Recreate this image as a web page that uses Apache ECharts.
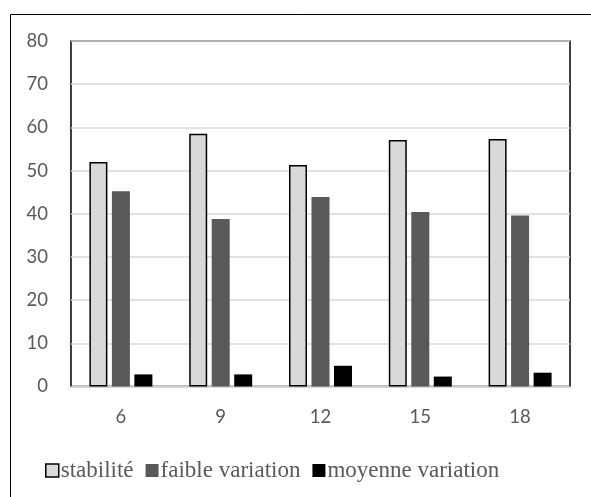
<!DOCTYPE html>
<html>
<head>
<meta charset="utf-8">
<script src="https://cdn.jsdelivr.net/npm/echarts@6/dist/echarts.min.js"></script>
<style>html,body{margin:0;padding:0;background:#fff;}#c{width:591px;height:497px;}</style>
</head>
<body>
<div id="c"></div>
<script>
var categories = ['6', '9', '12', '15', '18'];
var stabilite = [52.0, 58.5, 51.3, 57.1, 57.3];
var faibleVariation = [45.2, 38.8, 43.9, 40.4, 39.6];
var moyenneVariation = [2.8, 2.8, 4.8, 2.3, 3.2];
var seriesNames = ['stabilité', 'faible variation', 'moyenne variation'];
var yMin = 0, yMax = 80, yInterval = 10;

var chart = echarts.init(document.getElementById('c'), null, {renderer: 'canvas'});
chart.setOption({
  animation: false,
  backgroundColor: '#fff',
  graphic: [{
    type: 'rect', left: 8, top: 12, z: -10,
    shape: {width: 620, height: 520},
    style: {fill: 'none', stroke: '#000', lineWidth: 1}
  }],
  grid: {left: 71, top: 41, right: 21, bottom: 110.5, show: true, borderColor: '#000', borderWidth: 1.5, backgroundColor: 'transparent'},
  legend: {
    bottom: 10, left: 40,
    icon: 'rect',
    itemWidth: 13, itemHeight: 13, itemGap: 12,
    textStyle: {fontFamily: 'Liberation Serif', fontSize: 23, color: '#595959', padding: [0,0,0,-3]},
    data: [
      {name: seriesNames[0], itemStyle: {color: '#d9d9d9', borderColor: '#000', borderWidth: 1.5}},
      {name: seriesNames[1], itemStyle: {color: '#595959'}},
      {name: seriesNames[2], itemStyle: {color: '#000'}}
    ]
  },
  xAxis: {
    type: 'category', data: categories,
    axisLine: {lineStyle: {color: '#d9d9d9', width: 1.5}},
    axisTick: {show: false},
    axisLabel: {fontFamily: 'Lato', fontSize: 18.5, color: '#595959', margin: 21}
  },
  yAxis: {
    type: 'value', min: yMin, max: yMax, interval: yInterval,
    axisLine: {show: false}, axisTick: {show: false},
    splitLine: {lineStyle: {color: '#d9d9d9', width: 1.5}},
    axisLabel: {fontFamily: 'Lato', fontSize: 18.5, color: '#595959', margin: 23}
  },
  series: [
    {name: seriesNames[0], type: 'bar', data: stabilite, barWidth: 18, barGap: '25%',
     itemStyle: {color: '#d9d9d9', borderColor: '#000', borderWidth: 1.5}},
    {name: seriesNames[1], type: 'bar', data: faibleVariation, barWidth: 18, barGap: '25%',
     itemStyle: {color: '#595959'}},
    {name: seriesNames[2], type: 'bar', data: moyenneVariation, barWidth: 18, barGap: '25%',
     itemStyle: {color: '#000'}}
  ]
});
</script>
</body>
</html>
